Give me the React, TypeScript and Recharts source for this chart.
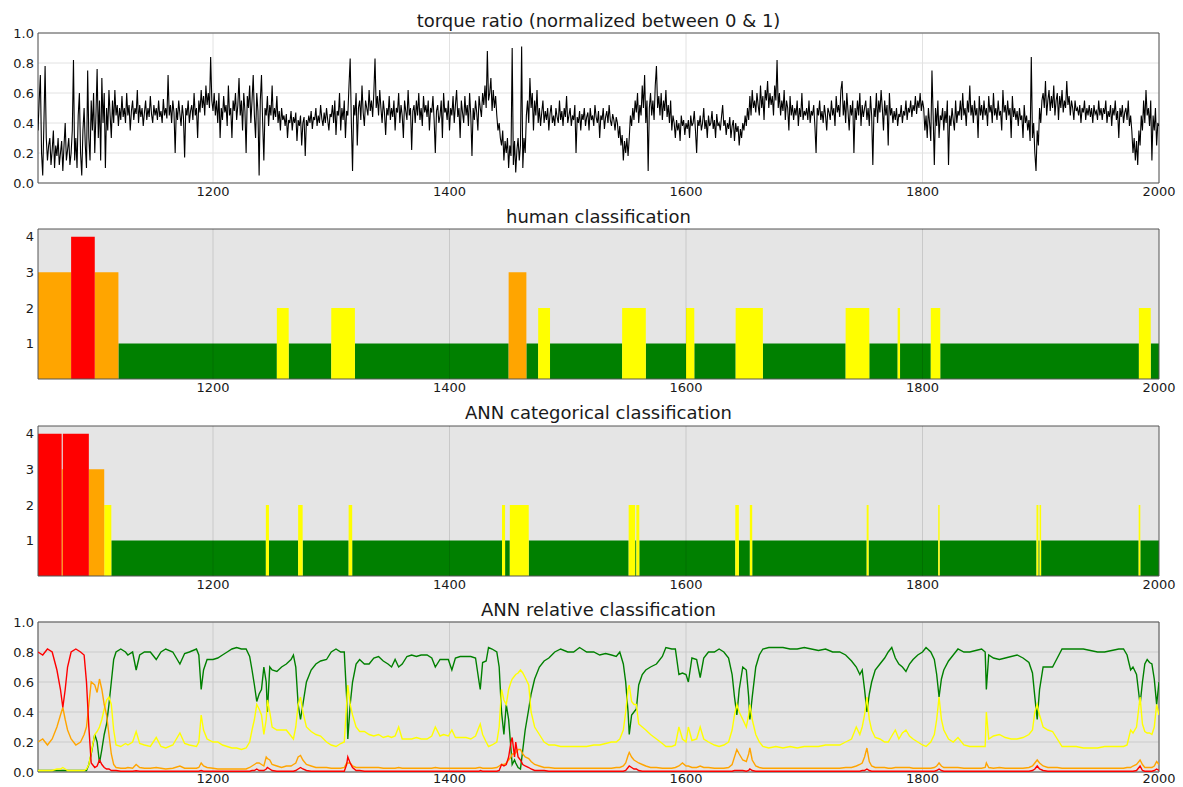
import {
  LineChart, Line, AreaChart, Area, XAxis, YAxis, CartesianGrid, ReferenceArea, ReferenceLine,
} from 'recharts';

const X_MIN = 1052;
const X_MAX = 2000;
const X_TICKS = [1200, 1400, 1600, 1800, 2000];
const UNIT_TICKS = [0, 0.2, 0.4, 0.6, 0.8, 1.0];
const CLASS_TICKS = [1, 2, 3, 4];
const CLASS_MAX = 4.22;

const TITLES = [
  'torque ratio (normalized between 0 & 1)',
  'human classification',
  'ANN categorical classification',
  'ANN relative classification',
];

// class 1..4 -> green, yellow, orange, red
const CLASS_COLORS = ['#008000', '#ffff00', '#ffa500', '#ff0000'];

// torque ratio, one reading per unit starting at 1052 (50 per row)
const TORQUE_START = 1052;
const TORQUE_STEP = 1;
const TORQUE = [
  .35, .55, .72, .2, .05, .4, .78, .3, .15, .25,
  .3, .12, .22, .35, .1, .25, .18, .3, .12, .2,
  .28, .08, .25, .4, .15, .22, .3, .12, .2, .35,
  .82, .15, .3, .1, .45, .6, .2, .05, .35, .5,
  .25, .1, .75, .3, .15, .55, .35, .6, .2, .45,

  .76, .3, .55, .15, .7, .4, .6, .1, .5, .35,
  .62, .45, .3, .55, .4, .62, .45, .52, .38, .5,
  .42, .58, .44, .5, .4, .6, .45, .52, .35, .48,
  .55, .42, .5, .46, .62, .4, .52, .44, .5, .38,
  .47, .55, .42, .5, .44, .58, .46, .4, .52, .45,

  .5, .42, .55, .44, .48, .4, .56, .45, .5, .43,
  .72, .45, .52, .4, .55, .47, .2, .5, .42, .55,
  .46, .38, .52, .44, .17, .5, .45, .55, .4, .48,
  .52, .42, .6, .45, .5, .3, .55, .47, .62, .5,
  .58, .45, .65, .52, .6, .5, .84, .55, .48, .6,

  .45, .55, .4, .6, .3, .5, .42, .58, .47, .52,
  .38, .65, .45, .5, .3, .55, .48, .6, .42, .52,
  .7, .45, .55, .35, .6, .48, .2, .58, .5, .65,
  .4, .55, .72, .45, .3, .6, .48, .05, .55, .72,
  .4, .15, .5, .45, .58, .38, .52, .45, .65, .42,

  .5, .44, .58, .4, .48, .35, .5, .42, .45, .38,
  .46, .3, .42, .4, .48, .35, .44, .4, .47, .28,
  .42, .38, .45, .25, .4, .44, .18, .42, .38, .45,
  .4, .48, .36, .44, .42, .5, .38, .45, .4, .52,
  .43, .38, .47, .4, .5, .42, .35, .46, .44, .52,

  .4, .55, .32, .48, .45, .6, .35, .5, .42, .55,
  .3, .48, .45, .65, .83, .4, .08, .52, .45, .6,
  .25, .5, .55, .42, .65, .47, .38, .55, .5, .45,
  .62, .48, .55, .44, .6, .83, .5, .58, .45, .62,
  .5, .4, .55, .47, .32, .5, .45, .58, .42, .5,

  .44, .55, .35, .5, .47, .6, .4, .52, .45, .3,
  .55, .48, .42, .62, .45, .5, .22, .48, .52, .4,
  .55, .45, .6, .42, .5, .38, .58, .47, .52, .44,
  .55, .35, .5, .47, .58, .42, .2, .48, .52, .4,
  .45, .55, .3, .6, .47, .5, .42, .55, .35, .5,

  .45, .58, .4, .52, .62, .44, .5, .3, .55, .47,
  .4, .58, .45, .52, .38, .6, .45, .18, .5, .42,
  .55, .47, .35, .58, .5, .44, .6, .52, .65, .5,
  .88, .55, .6, .7, .48, .62, .5, .58, .45, .35,
  .4, .3, .25, .35, .15, .28, .2, .3, .1, .25,

  .18, .9, .12, .28, .07, .22, .3, .15, .25, .91,
  .1, .3, .2, .45, .55, .4, .7, .5, .6, .35,
  .55, .45, .62, .4, .5, .38, .47, .55, .4, .48,
  .42, .5, .35, .46, .52, .4, .45, .38, .5, .44,
  .4, .55, .42, .48, .38, .5, .44, .58, .4, .45,

  .5, .38, .45, .42, .52, .2, .44, .4, .48, .35,
  .46, .42, .5, .38, .44, .47, .35, .5, .42, .45,
  .38, .52, .44, .4, .48, .3, .45, .42, .5, .36,
  .44, .48, .4, .52, .42, .38, .46, .42, .35, .44,
  .4, .3, .38, .25, .32, .15, .28, .2, .3, .18,

  .3, .45, .38, .5, .42, .55, .47, .6, .4, .52,
  .45, .65, .5, .72, .4, .55, .08, .5, .6, .45,
  .55, .42, .65, .78, .5, .58, .45, .6, .42, .55,
  .48, .62, .44, .52, .4, .55, .35, .45, .4, .3,
  .42, .35, .4, .28, .45, .38, .42, .32, .4, .36,

  .42, .3, .45, .38, .4, .48, .35, .2, .42, .38,
  .45, .35, .4, .5, .36, .42, .3, .45, .38, .4,
  .48, .36, .42, .3, .46, .38, .4, .35, .44, .52,
  .38, .42, .32, .4, .36, .44, .3, .38, .42, .28,
  .4, .34, .38, .25, .36, .3, .4, .35, .45, .38,

  .5, .42, .58, .45, .62, .5, .55, .47, .6, .52,
  .45, .65, .5, .58, .42, .62, .55, .68, .5, .6,
  .52, .58, .45, .65, .55, .82, .5, .6, .45, .55,
  .48, .62, .42, .55, .5, .35, .58, .45, .52, .42,
  .5, .45, .55, .38, .5, .44, .6, .42, .48, .45,

  .5, .42, .55, .4, .48, .45, .52, .38, .2, .5,
  .45, .55, .42, .48, .4, .52, .45, .35, .5, .47,
  .42, .55, .45, .5, .38, .58, .47, .52, .44, .62,
  .68, .45, .55, .4, .6, .48, .35, .52, .45, .55,
  .2, .5, .42, .55, .45, .6, .38, .52, .44, .5,

  .55, .42, .5, .38, .58, .45, .12, .5, .44, .6,
  .4, .55, .47, .62, .5, .35, .55, .45, .52, .25,
  .6, .45, .5, .4, .48, .42, .5, .38, .46, .44,
  .52, .4, .48, .45, .55, .42, .5, .47, .55, .44,
  .52, .48, .58, .46, .55, .5, .6, .48, .55, .5,

  .35, .45, .3, .5, .4, .28, .75, .45, .12, .5,
  .38, .55, .3, .45, .42, .5, .35, .48, .4, .55,
  .12, .45, .38, .5, .42, .35, .55, .4, .48, .45,
  .55, .42, .6, .45, .5, .38, .55, .47, .65, .45,
  .52, .4, .55, .45, .5, .3, .58, .45, .52, .42,

  .55, .45, .5, .38, .58, .47, .52, .4, .6, .45,
  .5, .42, .55, .45, .48, .35, .62, .47, .52, .42,
  .55, .45, .5, .3, .58, .44, .5, .42, .48, .38,
  .5, .42, .45, .3, .52, .4, .45, .35, .42, .28,
  .84, .3, .4, .2, .08, .35, .25, .5, .4, .55,

  .6, .5, .68, .45, .55, .62, .48, .58, .5, .65,
  .45, .55, .6, .42, .58, .5, .62, .47, .55, .5,
  .68, .52, .58, .45, .55, .5, .42, .55, .48, .5,
  .45, .52, .4, .5, .47, .55, .42, .5, .45, .52,
  .44, .5, .4, .52, .46, .48, .42, .55, .45, .5,

  .42, .5, .46, .55, .4, .48, .44, .52, .38, .5,
  .45, .55, .42, .48, .3, .5, .44, .52, .4, .47,
  .5, .42, .55, .38, .45, .35, .2, .3, .15, .28,
  .12, .35, .25, .45, .35, .55, .4, .62, .45, .5,
  .38, .55, .15, .45, .35, .5, .25, .4, .38,
];

// segment boundaries and the class of each segment
const HUMAN_BOUNDS = [
  1052, 1080, 1100, 1120, 1254, 1264, 1300, 1320, 1450, 1465, 1475, 1485, 1546, 1566,
  1600, 1607, 1642, 1665, 1735, 1755, 1779, 1781, 1807, 1815, 1983, 1993, 2000,
];
const HUMAN_CLASS = [3, 4, 3, 1, 2, 1, 2, 1, 3, 1, 2, 1, 2, 1, 2, 1, 2, 1, 2, 1, 2, 1, 2, 1, 2, 1];

const ANN_BOUNDS = [
  1052, 1072, 1073, 1095, 1108, 1114, 1244.7, 1247.3, 1272, 1275.8, 1314.7, 1317.7,
  1444.4, 1447, 1451, 1467, 1551.5, 1557, 1558, 1560.5, 1641.7, 1644.7, 1654, 1656,
  1752.8, 1754.4, 1813.3, 1814.5, 1896.4, 1898, 1899, 1900.3, 1982.8, 1984.2, 2000,
];
const ANN_CLASS = [
  4, 3, 4, 3, 2, 1,
  2, 1, 2, 1, 2, 1, 2, 1, 2, 1, 2, 1, 2, 1, 2, 1, 2, 1, 2, 1, 2, 1, 2, 1, 2, 1, 2, 1,
];

// ANN relative output per class
const REL_X = [
  1052, 1056, 1060, 1064, 1068, 1071, 1073, 1075, 1077, 1080,
  1084, 1088, 1091, 1093, 1095, 1097, 1100, 1102, 1104, 1106,
  1108, 1110, 1112, 1114, 1116, 1118, 1122, 1126, 1128, 1132,
  1135, 1138, 1142, 1147, 1152, 1156, 1160, 1166, 1172, 1176,
  1180, 1186, 1188, 1190, 1192, 1195, 1200, 1204, 1208, 1212,
  1216, 1220, 1224, 1228, 1231, 1233, 1235, 1237, 1239, 1241,
  1243, 1245, 1246, 1248, 1250, 1254, 1258, 1262, 1266, 1268,
  1270, 1272, 1274, 1276, 1279, 1283, 1287, 1291, 1296, 1300,
  1304, 1308, 1311, 1313, 1314, 1316, 1318, 1321, 1324, 1328,
  1332, 1336, 1340, 1344, 1348, 1351, 1354, 1357, 1360, 1364,
  1368, 1372, 1376, 1381, 1385, 1388, 1392, 1395, 1399, 1402,
  1405, 1409, 1414, 1418, 1422, 1425, 1426, 1428, 1431, 1433,
  1436, 1440, 1442, 1444, 1446, 1448, 1450, 1452, 1453, 1455,
  1456, 1458, 1460, 1462, 1464, 1467, 1469, 1472, 1476, 1480,
  1484, 1489, 1494, 1500, 1505, 1510, 1516, 1522, 1527, 1532,
  1537, 1541, 1544, 1547, 1549, 1551, 1552, 1554, 1556, 1558,
  1560, 1563, 1566, 1570, 1575, 1580, 1583, 1588, 1591, 1594,
  1597, 1600, 1602, 1605, 1609, 1612, 1615, 1619, 1624, 1628,
  1632, 1636, 1639, 1641, 1643, 1645, 1648, 1651, 1653, 1654,
  1656, 1659, 1662, 1665, 1670, 1676, 1682, 1688, 1694, 1700,
  1706, 1712, 1718, 1724, 1730, 1735, 1740, 1744, 1747, 1749,
  1751, 1753, 1755, 1757, 1760, 1764, 1768, 1771, 1774, 1777,
  1780, 1783, 1786, 1789, 1792, 1796, 1800, 1803, 1807, 1810,
  1812, 1814, 1816, 1818, 1822, 1826, 1830, 1835, 1840, 1845,
  1850, 1853, 1854, 1856, 1860, 1865, 1870, 1875, 1880, 1885,
  1890, 1893, 1895, 1897, 1899, 1902, 1906, 1910, 1914, 1918,
  1924, 1930, 1936, 1942, 1948, 1954, 1960, 1966, 1970, 1973,
  1976, 1978, 1981, 1984, 1986, 1988, 1990, 1992, 1994, 1996,
  1998, 2000,
];
const REL_GREEN = [
  .01, .01, .01, .01, .01, .01, .01, .01, .01, .01,
  .01, .01, .01, .01, .05, .12, .25, .20, .06, .15,
  .25, .32, .45, .60, .75, .80, .82, .80, .78, .80,
  .68, .78, .80, .80, .75, .80, .82, .80, .72, .79,
  .80, .82, .78, .55, .68, .75, .75, .76, .78, .80,
  .82, .83, .82, .82, .77, .68, .58, .47, .52, .55,
  .70, .60, .40, .70, .68, .67, .70, .72, .75, .78,
  .70, .45, .35, .45, .60, .68, .72, .74, .75, .80,
  .82, .80, .80, .50, .22, .45, .60, .72, .75, .72,
  .72, .76, .77, .74, .72, .70, .75, .70, .72, .77,
  .78, .77, .78, .78, .76, .70, .75, .75, .75, .68,
  .76, .77, .77, .77, .76, .60, .55, .73, .74, .83,
  .82, .80, .70, .40, .25, .45, .35, .15, .05, .08,
  .06, .03, .02, .15, .28, .42, .52, .62, .70, .74,
  .76, .80, .82, .80, .80, .83, .80, .80, .78, .79,
  .78, .77, .80, .72, .60, .40, .25, .38, .40, .42,
  .58, .65, .68, .70, .72, .77, .83, .82, .82, .65,
  .66, .65, .60, .76, .75, .63, .76, .80, .80, .82,
  .80, .76, .65, .50, .38, .55, .70, .68, .50, .35,
  .50, .70, .78, .82, .83, .83, .83, .82, .82, .83,
  .82, .81, .82, .80, .80, .78, .74, .70, .65, .68,
  .55, .40, .52, .60, .68, .72, .76, .80, .83, .76,
  .72, .70, .67, .72, .75, .78, .80, .83, .80, .75,
  .65, .50, .62, .68, .74, .78, .82, .80, .80, .81,
  .82, .80, .55, .78, .76, .75, .76, .77, .78, .76,
  .73, .66, .50, .35, .55, .70, .70, .70, .76, .82,
  .82, .82, .82, .81, .80, .80, .81, .82, .82, .78,
  .68, .70, .65, .45, .60, .72, .75, .73, .72, .62,
  .45, .60,
];
const REL_YELLOW = [
  .01, .01, .01, .01, .02, .02, .03, .02, .01, .01,
  .01, .01, .01, .02, .05, .13, .25, .27, .30, .35,
  .42, .48, .50, .45, .28, .18, .17, .19, .18, .20,
  .27, .19, .18, .17, .23, .17, .16, .18, .26, .19,
  .18, .17, .20, .38, .28, .22, .20, .20, .18, .17,
  .16, .16, .15, .16, .20, .28, .35, .45, .42, .38,
  .25, .35, .48, .40, .30, .28, .28, .28, .24, .22,
  .30, .45, .50, .40, .30, .27, .25, .24, .20, .18,
  .17, .19, .20, .45, .58, .45, .38, .30, .27, .27,
  .25, .24, .25, .23, .24, .23, .24, .30, .22, .22,
  .22, .23, .22, .22, .24, .30, .24, .25, .24, .28,
  .23, .23, .23, .22, .24, .30, .32, .25, .20, .17,
  .18, .20, .30, .55, .48, .45, .55, .60, .62, .64,
  .65, .66, .68, .66, .63, .58, .40, .30, .25, .20,
  .18, .18, .17, .17, .17, .17, .17, .18, .18, .19,
  .20, .20, .22, .28, .40, .55, .58, .47, .45, .45,
  .32, .30, .28, .25, .22, .19, .17, .17, .18, .30,
  .22, .20, .30, .21, .22, .30, .22, .20, .18, .17,
  .18, .20, .28, .38, .45, .40, .35, .30, .38, .45,
  .35, .25, .20, .17, .16, .17, .16, .17, .16, .17,
  .17, .17, .18, .18, .18, .20, .22, .30, .25, .30,
  .38, .50, .35, .28, .23, .22, .20, .20, .24, .28,
  .22, .26, .28, .24, .22, .20, .18, .17, .20, .25,
  .35, .50, .35, .28, .22, .20, .23, .18, .17, .17,
  .17, .17, .40, .22, .24, .25, .23, .22, .22, .23,
  .25, .28, .40, .45, .38, .30, .28, .27, .22, .17,
  .17, .17, .16, .16, .16, .17, .17, .17, .17, .18,
  .28, .26, .30, .50, .32, .27, .26, .26, .25, .30,
  .45, .38,
];
const REL_ORANGE = [
  .20, .22, .18, .22, .30, .38, .43, .35, .28, .22,
  .18, .20, .25, .30, .45, .60, .58, .53, .62, .55,
  .45, .38, .25, .12, .05, .03, .025, .025, .03, .025,
  .05, .03, .025, .025, .03, .025, .02, .025, .04, .025,
  .025, .025, .03, .06, .04, .03, .025, .02, .02, .02,
  .02, .02, .02, .02, .03, .04, .05, .06, .06, .05,
  .04, .10, .09, .08, .05, .04, .03, .04, .04, .05,
  .06, .10, .11, .08, .05, .04, .03, .03, .03, .025,
  .025, .025, .03, .06, .06, .06, .04, .03, .03, .03,
  .03, .03, .03, .025, .025, .025, .025, .03, .025, .025,
  .025, .025, .025, .025, .025, .03, .025, .025, .025, .025,
  .025, .025, .025, .025, .025, .03, .03, .025, .025, .025,
  .025, .03, .04, .05, .05, .06, .08, .10, .12, .12,
  .13, .15, .15, .12, .10, .09, .07, .05, .04, .03,
  .03, .025, .025, .025, .025, .025, .025, .025, .025, .025,
  .025, .03, .03, .04, .06, .11, .13, .10, .08, .07,
  .06, .05, .04, .03, .03, .025, .025, .025, .03, .04,
  .06, .04, .04, .03, .03, .04, .03, .03, .025, .025,
  .025, .03, .05, .10, .15, .12, .08, .07, .12, .16,
  .08, .04, .03, .025, .025, .025, .025, .025, .025, .025,
  .025, .025, .025, .025, .025, .03, .03, .04, .05, .06,
  .10, .16, .07, .04, .03, .03, .03, .025, .025, .03,
  .03, .03, .03, .03, .025, .025, .025, .025, .025, .03,
  .04, .06, .04, .03, .03, .03, .03, .025, .025, .025,
  .025, .03, .06, .03, .025, .03, .025, .025, .025, .025,
  .03, .04, .06, .08, .06, .04, .03, .03, .03, .025,
  .025, .025, .025, .025, .025, .025, .025, .025, .025, .03,
  .03, .04, .05, .08, .05, .03, .03, .03, .03, .04,
  .07, .05,
];
const REL_RED = [
  .80, .78, .82, .80, .68, .55, .43, .55, .70, .80,
  .82, .80, .78, .60, .30, .06, .03, .04, .08, .05,
  .03, .02, .02, .01, .01, .01, .005, .005, .005, .005,
  .008, .005, .005, .005, .005, .005, .005, .005, .005, .005,
  .005, .005, .005, .01, .005, .005, .005, .005, .005, .005,
  .005, .005, .005, .005, .005, .01, .01, .02, .01, .01,
  .01, .02, .03, .02, .01, .005, .005, .005, .005, .005,
  .01, .02, .03, .02, .01, .005, .005, .005, .005, .005,
  .005, .005, .005, .05, .10, .06, .03, .01, .01, .005,
  .005, .005, .005, .005, .005, .005, .005, .005, .005, .005,
  .005, .005, .005, .005, .005, .005, .005, .005, .005, .005,
  .005, .005, .005, .005, .005, .005, .01, .005, .005, .005,
  .005, .005, .01, .05, .04, .05, .10, .20, .23, .10,
  .20, .10, .08, .05, .04, .03, .02, .01, .01, .01,
  .005, .005, .005, .005, .005, .005, .005, .005, .005, .005,
  .005, .005, .005, .005, .01, .03, .04, .03, .02, .02,
  .01, .005, .005, .005, .005, .005, .005, .005, .005, .005,
  .005, .005, .005, .005, .005, .005, .005, .005, .005, .005,
  .005, .005, .005, .01, .01, .01, .01, .005, .01, .02,
  .01, .005, .005, .005, .005, .005, .005, .005, .005, .005,
  .005, .005, .005, .005, .005, .005, .005, .005, .005, .01,
  .01, .02, .01, .005, .005, .005, .005, .005, .005, .005,
  .005, .005, .005, .005, .005, .005, .005, .005, .005, .005,
  .01, .02, .01, .005, .005, .005, .005, .005, .005, .005,
  .005, .005, .005, .005, .005, .005, .005, .005, .005, .005,
  .005, .01, .02, .04, .02, .01, .005, .005, .005, .005,
  .005, .005, .005, .005, .005, .005, .005, .005, .005, .005,
  .005, .005, .01, .04, .01, .005, .005, .005, .005, .01,
  .02, .01,
];

const FONT = '"DejaVu Sans", "Bitstream Vera Sans", sans-serif';
const CHART_W = 1183;
const CHART_H = 215;
const PANEL_TOPS = [0, 196, 393, 589];
const MARGIN = { top: 33, right: 24, bottom: 0, left: 0 };
const TICK = { fontSize: 13, fill: '#1a1a1a', fontFamily: FONT };
const FRAME = '#555555';
const PANEL_BG = '#e5e5e5';

const torqueData = TORQUE.map((v, i) => ({ x: TORQUE_START + i * TORQUE_STEP, v }));

function stepRows(bounds: number[], cls: number[]) {
  return bounds.map((x, i) => {
    const c = cls[Math.min(i, cls.length - 1)];
    return {
      x,
      c1: c === 1 ? 1 : 0,
      c2: c === 2 ? 2 : 0,
      c3: c === 3 ? 3 : 0,
      c4: c === 4 ? 4 : 0,
    };
  });
}

const humanData = stepRows(HUMAN_BOUNDS, HUMAN_CLASS);
const annData = stepRows(ANN_BOUNDS, ANN_CLASS);

const relData = REL_X.map((x, i) => ({
  x,
  g: REL_GREEN[i],
  y: REL_YELLOW[i],
  o: REL_ORANGE[i],
  r: REL_RED[i],
}));

const fmt1 = (v: number) => v.toFixed(1);

function ClassChart({ data }: { data: ReturnType<typeof stepRows> }) {
  return (
    <AreaChart width={CHART_W} height={CHART_H} data={data} margin={MARGIN}>
      <CartesianGrid horizontal={false} vertical={false} fill={PANEL_BG} fillOpacity={1} />
      <XAxis
        dataKey="x" type="number" domain={[X_MIN, X_MAX]} ticks={X_TICKS} interval={0}
        allowDataOverflow axisLine={false} tickLine={false} tickSize={0} tickMargin={4}
        height={32} tick={TICK}
      />
      <YAxis
        type="number" domain={[0, CLASS_MAX]} ticks={CLASS_TICKS} allowDataOverflow
        axisLine={false} tickLine={false} tickSize={0} tickMargin={4} width={38} tick={TICK}
      />
      {['c1', 'c2', 'c3', 'c4'].map((k, i) => (
        <Area
          key={k}
          type="stepAfter"
          dataKey={k}
          stroke="none"
          fill={CLASS_COLORS[i]}
          fillOpacity={1}
          dot={false}
          activeDot={false}
          isAnimationActive={false}
        />
      ))}
      {X_TICKS.slice(0, -1).map(t => (
        <ReferenceLine key={t} x={t} stroke="#000" strokeOpacity={0.12} strokeWidth={1} />
      ))}
      <ReferenceArea x1={X_MIN} x2={X_MAX} y1={0} y2={CLASS_MAX} fill="none" stroke={FRAME} strokeWidth={1} />
    </AreaChart>
  );
}

export default function App() {
  return (
    <div style={{ position: 'absolute', left: 0, top: 0, width: 1183, height: 787, background: '#fff', overflow: 'hidden' }}>
      <div style={{ position: 'absolute', left: 0, top: PANEL_TOPS[0] }}>
        <LineChart width={CHART_W} height={CHART_H} data={torqueData} margin={MARGIN}>
          <CartesianGrid stroke="#e2e2e2" />
          <XAxis
            dataKey="x" type="number" domain={[X_MIN, X_MAX]} ticks={X_TICKS} interval={0}
            allowDataOverflow axisLine={false} tickLine={false} tickSize={0} tickMargin={4}
            height={32} tick={TICK}
          />
          <YAxis
            type="number" domain={[0, 1]} ticks={UNIT_TICKS} tickFormatter={fmt1}
            axisLine={false} tickLine={false} tickSize={0} tickMargin={4} width={38} tick={TICK}
          />
          <Line
            type="linear" dataKey="v" stroke="#000" strokeWidth={1.1}
            dot={false} activeDot={false} isAnimationActive={false}
          />
          <ReferenceArea x1={X_MIN} x2={X_MAX} y1={0} y2={1} fill="none" stroke={FRAME} strokeWidth={1} />
        </LineChart>
      </div>

      <div style={{ position: 'absolute', left: 0, top: PANEL_TOPS[1] }}>
        <ClassChart data={humanData} />
      </div>

      <div style={{ position: 'absolute', left: 0, top: PANEL_TOPS[2] }}>
        <ClassChart data={annData} />
      </div>

      <div style={{ position: 'absolute', left: 0, top: PANEL_TOPS[3] }}>
        <LineChart width={CHART_W} height={CHART_H} data={relData} margin={MARGIN}>
          <CartesianGrid stroke="#cbcbcb" fill={PANEL_BG} fillOpacity={1} />
          <XAxis
            dataKey="x" type="number" domain={[X_MIN, X_MAX]} ticks={X_TICKS} interval={0}
            allowDataOverflow axisLine={false} tickLine={false} tickSize={0} tickMargin={2}
            height={32} tick={TICK}
          />
          <YAxis
            type="number" domain={[0, 1]} ticks={UNIT_TICKS} tickFormatter={fmt1}
            axisLine={false} tickLine={false} tickSize={0} tickMargin={4} width={38} tick={TICK}
          />
          <Line type="linear" dataKey="g" stroke={CLASS_COLORS[0]} strokeWidth={1.4} dot={false} activeDot={false} isAnimationActive={false} />
          <Line type="linear" dataKey="y" stroke={CLASS_COLORS[1]} strokeWidth={1.4} dot={false} activeDot={false} isAnimationActive={false} />
          <Line type="linear" dataKey="o" stroke={CLASS_COLORS[2]} strokeWidth={1.4} dot={false} activeDot={false} isAnimationActive={false} />
          <Line type="linear" dataKey="r" stroke={CLASS_COLORS[3]} strokeWidth={1.4} dot={false} activeDot={false} isAnimationActive={false} />
          <ReferenceArea x1={X_MIN} x2={X_MAX} y1={0} y2={1} fill="none" stroke={FRAME} strokeWidth={1} />
        </LineChart>
      </div>

      <svg width={1183} height={787} style={{ position: 'absolute', left: 0, top: 0, pointerEvents: 'none' }}>
        {TITLES.map((t, i) => (
          <text
            key={t}
            x={598.5}
            y={26.5 + i * 196.4}
            textAnchor="middle"
            fontFamily={FONT}
            fontSize={18}
            fill="#1a1a1a"
          >
            {t}
          </text>
        ))}
      </svg>
    </div>
  );
}
